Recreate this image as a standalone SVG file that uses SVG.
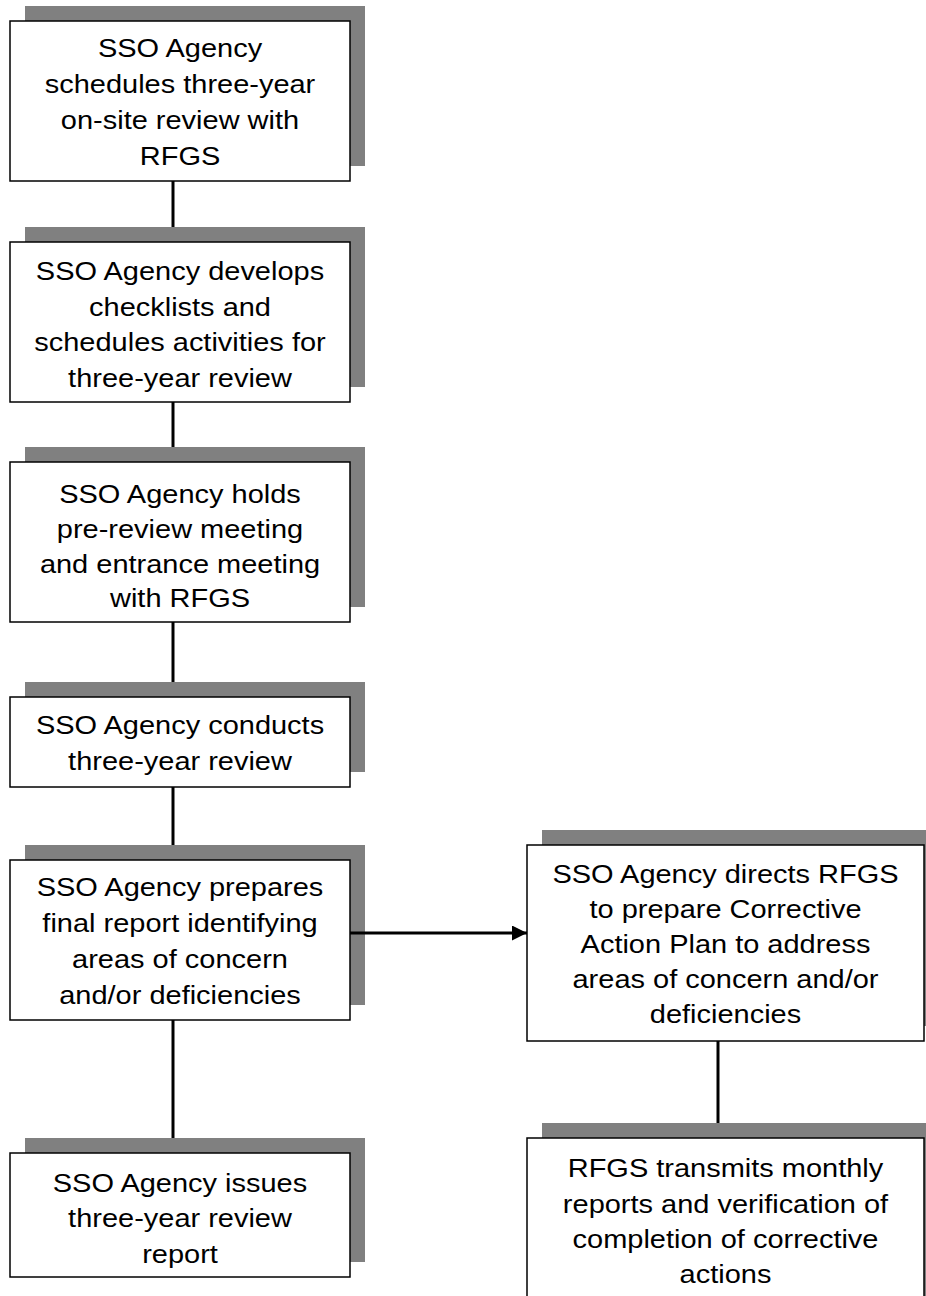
<svg xmlns="http://www.w3.org/2000/svg" width="926" height="1296" viewBox="0 0 926 1296">
<defs>
<marker id="arr" markerWidth="15" markerHeight="15" refX="15" refY="7.5" orient="auto" markerUnits="userSpaceOnUse">
<path d="M0,0 L15,7.5 L0,15 Z" fill="#000"/>
</marker>
</defs>
<style>
.sh{fill:#808080;stroke:none}
.bx{fill:#fff;stroke:#000;stroke-width:1.5}
.t{font-family:"Liberation Sans",Arial,sans-serif;font-size:26px;fill:#000;text-anchor:middle}
.ln{stroke:#000;stroke-width:3;fill:none}
</style>
<rect width="926" height="1296" fill="#fff"/>
<g id="n1">
<rect class="sh" x="25" y="6" width="340" height="160"/>
<rect class="bx" x="10" y="21" width="340" height="160"/>
<text class="t" transform="translate(180 0) scale(1.115 1)"><tspan x="0" y="57">SSO Agency</tspan><tspan x="0" y="93">schedules three-year</tspan><tspan x="0" y="129.5">on-site review with</tspan><tspan x="0" y="165.5">RFGS</tspan></text>
</g>
<g id="n2">
<rect class="sh" x="25" y="227" width="340" height="160"/>
<rect class="bx" x="10" y="242" width="340" height="160"/>
<text class="t" transform="translate(180 0) scale(1.115 1)"><tspan x="0" y="280.5">SSO Agency develops</tspan><tspan x="0" y="316">checklists and</tspan><tspan x="0" y="351.5">schedules activities for</tspan><tspan x="0" y="387">three-year review</tspan></text>
</g>
<g id="n3">
<rect class="sh" x="25" y="447" width="340" height="160"/>
<rect class="bx" x="10" y="462" width="340" height="160"/>
<text class="t" transform="translate(180 0) scale(1.115 1)"><tspan x="0" y="503">SSO Agency holds</tspan><tspan x="0" y="538">pre-review meeting</tspan><tspan x="0" y="573">and entrance meeting</tspan><tspan x="0" y="607.5">with RFGS</tspan></text>
</g>
<g id="n4">
<rect class="sh" x="25" y="682" width="340" height="90"/>
<rect class="bx" x="10" y="697" width="340" height="90"/>
<text class="t" transform="translate(180 0) scale(1.115 1)"><tspan x="0" y="734">SSO Agency conducts</tspan><tspan x="0" y="770">three-year review</tspan></text>
</g>
<g id="n5">
<rect class="sh" x="25" y="845" width="340" height="160"/>
<rect class="bx" x="10" y="860" width="340" height="160"/>
<text class="t" transform="translate(180 0) scale(1.115 1)"><tspan x="0" y="896.5">SSO Agency prepares</tspan><tspan x="0" y="932.5">final report identifying</tspan><tspan x="0" y="968">areas of concern</tspan><tspan x="0" y="1004">and/or deficiencies</tspan></text>
</g>
<g id="n6">
<rect class="sh" x="25" y="1138" width="340" height="124"/>
<rect class="bx" x="10" y="1153" width="340" height="124"/>
<text class="t" transform="translate(180 0) scale(1.115 1)"><tspan x="0" y="1192">SSO Agency issues</tspan><tspan x="0" y="1227.5">three-year review</tspan><tspan x="0" y="1263">report</tspan></text>
</g>
<g id="n7">
<rect class="sh" x="542" y="830" width="397" height="196"/>
<rect class="bx" x="527" y="845" width="397" height="196"/>
<text class="t" transform="translate(725.5 0) scale(1.115 1)"><tspan x="0" y="883">SSO Agency directs RFGS</tspan><tspan x="0" y="918">to prepare Corrective</tspan><tspan x="0" y="953">Action Plan to address</tspan><tspan x="0" y="988">areas of concern and/or</tspan><tspan x="0" y="1023">deficiencies</tspan></text>
</g>
<g id="n8">
<rect class="sh" x="542" y="1123" width="397" height="200"/>
<rect class="bx" x="527" y="1138" width="397" height="200"/>
<text class="t" transform="translate(725.5 0) scale(1.115 1)"><tspan x="0" y="1177">RFGS transmits monthly</tspan><tspan x="0" y="1213">reports and verification of</tspan><tspan x="0" y="1248">completion of corrective</tspan><tspan x="0" y="1283">actions</tspan></text>
</g>
<g id="connectors">
<line class="ln" x1="173" y1="181" x2="173" y2="227"/>
<line class="ln" x1="173" y1="402" x2="173" y2="447"/>
<line class="ln" x1="173" y1="622" x2="173" y2="682"/>
<line class="ln" x1="173" y1="787" x2="173" y2="845"/>
<line class="ln" x1="173" y1="1020" x2="173" y2="1138"/>
<line class="ln" x1="718" y1="1041" x2="718" y2="1123"/>
<line class="ln" x1="350" y1="933" x2="527" y2="933" marker-end="url(#arr)"/>
</g>
</svg>
